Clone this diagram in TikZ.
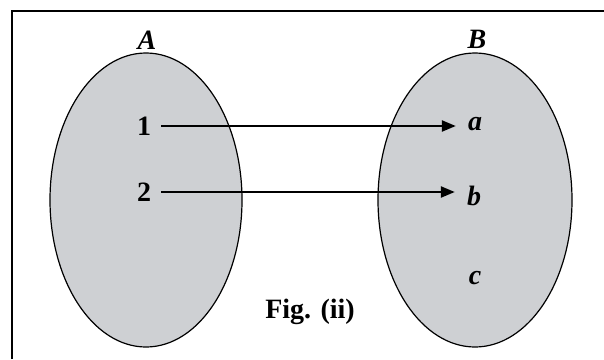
\documentclass[tikz,border=0pt]{standalone}
\usepackage{fontspec}
\setmainfont{Liberation Serif}
\usetikzlibrary{arrows.meta}
\definecolor{SetGray}{RGB}{206,208,211}

\tikzset{
  setlabel/.style={font=\fontsize{28}{32}\selectfont\bfseries\itshape, inner sep=0pt},
  elemlabel/.style={font=\fontsize{28}{32}\selectfont\bfseries, inner sep=0pt},
  maparrow/.style={line width=2.3pt, -{Triangle[length=14pt,width=11pt]},
    shorten <=10pt, shorten >=12pt},
}

\begin{document}
\begin{tikzpicture}[x=1pt, y=-1pt]
  \useasboundingbox (0,0) rectangle (604,359);

  % --- Frame (top and left edge only) ---
  \draw[line width=2.4pt] (12,359) -- (12,11) -- (604,11);

  % --- The two sets ---
  \draw[fill=SetGray, line width=1.2pt] (146,200) ellipse (96 and 147);
  \draw[fill=SetGray, line width=1.2pt] (475,200) ellipse (97 and 147);

  % --- Set names ---
  \node[setlabel] (setA) at (147,40) {A};
  \node[setlabel] (setB) at (477,39) {B};

  % --- Elements ---
  \node[elemlabel] (one) at (144,126) {1};
  \node[elemlabel] (two) at (144,192) {2};
  \node[setlabel] (a) at (475,124) {a};
  \node[setlabel] (b) at (474,196) {b};
  \node[setlabel] (c) at (475,278) {c};

  % --- Mapping ---
  \draw[maparrow] (one.east) -- (one.east -| a.west);
  \draw[maparrow] (two.east) -- (two.east -| b.west);

  % --- Caption ---
  \node[elemlabel] (caption) at (310,312) {Fig. (ii)};
\end{tikzpicture}
\end{document}
